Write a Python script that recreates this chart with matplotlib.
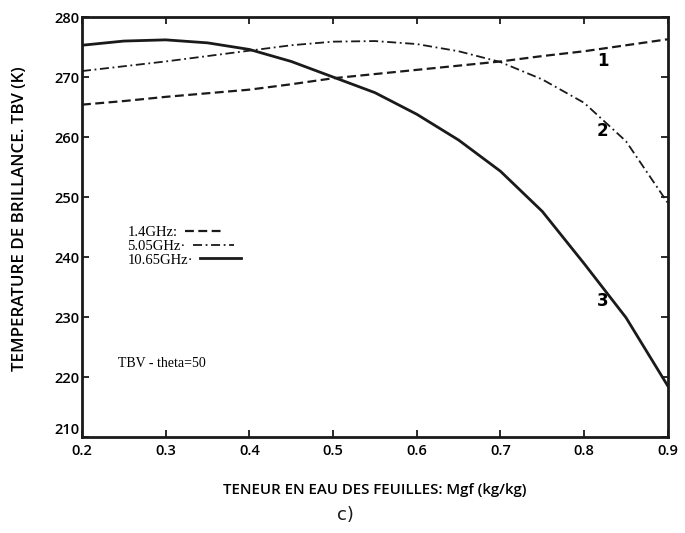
import matplotlib
matplotlib.use("Agg")
import matplotlib.pyplot as plt
import numpy as np

# Data
mgf = [0.2, 0.25, 0.3, 0.35, 0.4, 0.45, 0.5, 0.55, 0.6, 0.65, 0.7, 0.75, 0.8, 0.85, 0.9]
tbv_1_4 = [265.4, 266.0, 266.7, 267.3, 267.9, 268.8, 269.8, 270.5, 271.2, 271.9, 272.6, 273.5, 274.3, 275.3, 276.3]
tbv_5_05 = [271.0, 271.8, 272.6, 273.5, 274.4, 275.3, 275.9, 276.0, 275.5, 274.3, 272.5, 269.6, 265.7, 259.3, 249.0]
tbv_10_65 = [275.3, 276.0, 276.2, 275.7, 274.6, 272.6, 270.0, 267.4, 263.8, 259.5, 254.3, 247.6, 238.9, 229.9, 218.5]

series_labels = ["1.4GHz:", "5.05GHz\u00b7", "10.65GHz\u00b7"]
curve_numbers = ["1", "2", "3"]
curve_number_pos = [(0.822, 272.6), (0.822, 261.0), (0.822, 232.6)]

xticks = [0.2, 0.3, 0.4, 0.5, 0.6, 0.7, 0.8, 0.9]
yticks = [210, 220, 230, 240, 250, 260, 270, 280]

fig = plt.figure(figsize=(6.85, 5.33), dpi=100)
ax = fig.add_axes([0.1197, 0.180, 0.8553, 0.788])

ink = "#1a1a1a"
l1, = ax.plot(mgf, tbv_1_4, color=ink, lw=1.6, linestyle=(0, (4, 2)))
l2, = ax.plot(mgf, tbv_5_05, color=ink, lw=1.3, linestyle=(0, (5, 2, 1, 2)))
l3, = ax.plot(mgf, tbv_10_65, color=ink, lw=2.0, linestyle="-")

ax.set_xlim(0.2, 0.9)
ax.set_ylim(210, 280)
ax.set_xticks(xticks)
ax.set_yticks(yticks)
tick_font = dict(fontfamily="Open Sans", fontweight="semibold", fontsize=10.5)
ax.set_xticklabels([f"{v:.1f}" for v in xticks], **tick_font)
ax.set_yticklabels([str(v) for v in yticks], **tick_font)
ax.tick_params(direction="in", length=5, width=1.3, top=True, right=True, color=ink, pad=2)
ax.tick_params(axis="x", pad=5)
ax.get_yticklabels()[0].set_verticalalignment("bottom")
for s in ax.spines.values():
    s.set_linewidth(2.0)
    s.set_color(ink)

ax.set_xlabel("TENEUR EN EAU DES FEUILLES: Mgf (kg/kg)", fontfamily="Open Sans", fontweight="semibold",
              fontsize=10.8, labelpad=18)
ax.set_ylabel("TEMPERATURE DE BRILLANCE. TBV (K)", fontfamily="Open Sans", fontweight="semibold",
              fontsize=12.2)
ax.yaxis.set_label_coords(-0.092, 0.52)

for t, (x, y) in zip(curve_numbers, curve_number_pos):
    ax.text(x, y, t, fontfamily="DejaVu Sans", fontweight="bold", fontsize=12, ha="center", va="center")

leg = ax.legend([l1, l2, l3], series_labels, loc="upper left", bbox_to_anchor=(0.055, 0.535),
                frameon=False, markerfirst=False, handlelength=2.8, handletextpad=0.5,
                labelspacing=0.05, prop={"family": "Liberation Serif", "size": 10.5})
for col in leg._legend_handle_box.get_children():
    col.align = "left"

ax.text(0.243, 222.3, "TBV - theta=50", fontfamily="Liberation Serif", fontsize=10, ha="left", va="center")

fig.text(0.505, 0.033, "c)", fontfamily="DejaVu Sans", fontsize=13, ha="center", va="center", color=ink)

fig.savefig("out.png", dpi=100)
